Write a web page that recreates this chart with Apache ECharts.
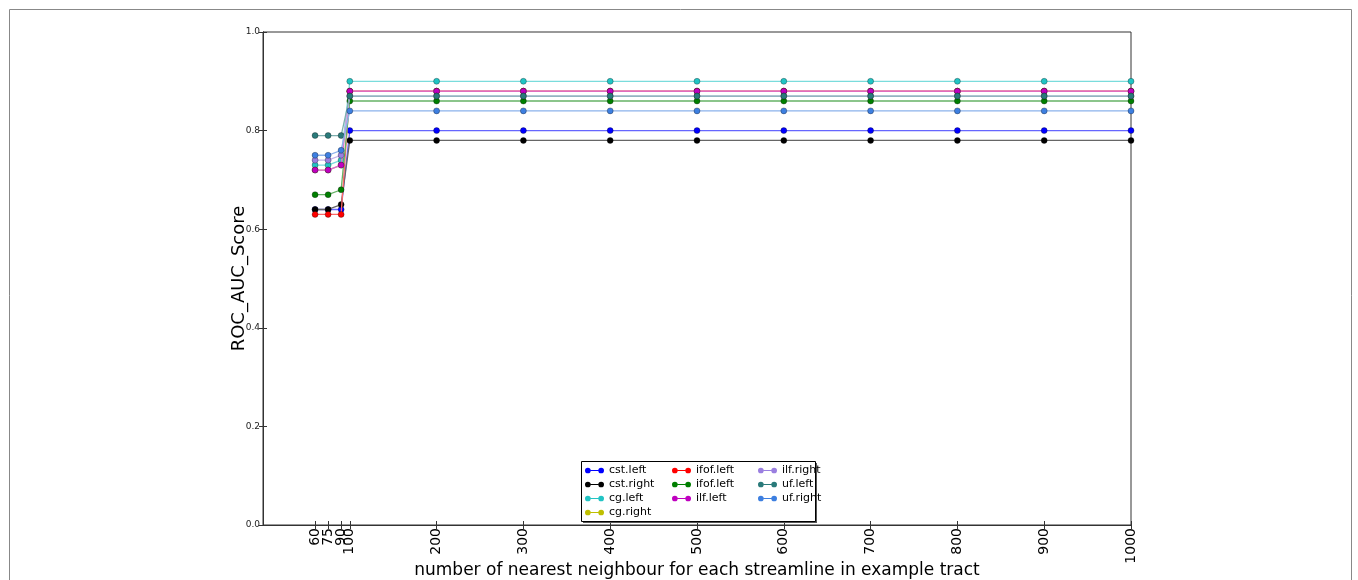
<!DOCTYPE html>
<html>
<head>
<meta charset="utf-8">
<script src="https://cdn.jsdelivr.net/npm/echarts@6/dist/echarts.min.js"></script>
<style>
html,body{margin:0;padding:0;background:#fff;}
#chart{width:1358px;height:580px;}
</style>
</head>
<body>
<div id="chart"></div>
<script>
const xValues = [60, 75, 90, 100, 200, 300, 400, 500, 600, 700, 800, 900, 1000];
const xTickLabels = [60, 75, 90, 100, 200, 300, 400, 500, 600, 700, 800, 900, 1000];
const seriesNames = ['cst.left', 'cst.right', 'cg.left', 'cg.right', 'ifof.left', 'ifof.left ', 'ilf.left', 'ilf.right', 'uf.left', 'uf.right'];
const legendLabels = ['cst.left', 'cst.right', 'cg.left', 'cg.right', 'ifof.left', 'ifof.left', 'ilf.left', 'ilf.right', 'uf.left', 'uf.right'];
const seriesColors = ['#0000ff', '#000000', '#22c4c4', '#bfbf00', '#ff0000', '#007f00', '#bf00bf', '#9a7fe0', '#2a7a7a', '#3d7fe0'];
const cstLeft   = [0.64, 0.64, 0.64, 0.80, 0.80, 0.80, 0.80, 0.80, 0.80, 0.80, 0.80, 0.80, 0.80];
const cstRight  = [0.64, 0.64, 0.65, 0.78, 0.78, 0.78, 0.78, 0.78, 0.78, 0.78, 0.78, 0.78, 0.78];
const cgLeft    = [0.73, 0.73, 0.74, 0.90, 0.90, 0.90, 0.90, 0.90, 0.90, 0.90, 0.90, 0.90, 0.90];
const cgRight   = [0.72, 0.72, 0.73, 0.88, 0.88, 0.88, 0.88, 0.88, 0.88, 0.88, 0.88, 0.88, 0.88];
const ifofLeftA = [0.63, 0.63, 0.63, 0.88, 0.88, 0.88, 0.88, 0.88, 0.88, 0.88, 0.88, 0.88, 0.88];
const ifofLeftB = [0.67, 0.67, 0.68, 0.86, 0.86, 0.86, 0.86, 0.86, 0.86, 0.86, 0.86, 0.86, 0.86];
const ilfLeft   = [0.72, 0.72, 0.73, 0.88, 0.88, 0.88, 0.88, 0.88, 0.88, 0.88, 0.88, 0.88, 0.88];
const ilfRight  = [0.74, 0.74, 0.75, 0.87, 0.87, 0.87, 0.87, 0.87, 0.87, 0.87, 0.87, 0.87, 0.87];
const ufLeft    = [0.79, 0.79, 0.79, 0.87, 0.87, 0.87, 0.87, 0.87, 0.87, 0.87, 0.87, 0.87, 0.87];
const ufRight   = [0.75, 0.75, 0.76, 0.84, 0.84, 0.84, 0.84, 0.84, 0.84, 0.84, 0.84, 0.84, 0.84];
const allValues = [cstLeft, cstRight, cgLeft, cgRight, ifofLeftA, ifofLeftB, ilfLeft, ilfRight, ufLeft, ufRight];

const FONT = 'DejaVu Sans';
const chart = echarts.init(document.getElementById('chart'), null, {renderer: 'canvas'});

function tint(hex, f) {
  const n = parseInt(hex.slice(1), 16);
  const r = (n >> 16) & 255, g = (n >> 8) & 255, b = n & 255;
  const m = c => Math.round(c + (255 - c) * f);
  return 'rgb(' + m(r) + ',' + m(g) + ',' + m(b) + ')';
}

const series = seriesNames.map((name, i) => ({
  name: name,
  type: 'line',
  data: xValues.map((x, j) => [x, allValues[i][j]]),
  symbol: 'circle',
  symbolSize: 6,
  showSymbol: true,
  color: seriesColors[i],
  lineStyle: {width: 1.3, color: tint(seriesColors[i], 0.4)},
  itemStyle: {borderColor: 'rgba(0,0,0,0.5)', borderWidth: 0.6},
  emphasis: {disabled: true},
  z: 2 + i
}));

const legendIcon = 'path://M0,3a3,3 0 1,0 6,0a3,3 0 1,0 -6,0Z M6,2.4h8v1.2h-8Z M14,3a3,3 0 1,0 6,0a3,3 0 1,0 -6,0Z';
const legendCols = [[0, 1, 2, 3], [4, 5, 6], [7, 8, 9]];
const legendLeft = [585, 672, 758];
const legends = legendCols.map((col, c) => ({
  orient: 'vertical',
  left: legendLeft[c],
  top: 464,
  itemGap: 1,
  itemWidth: 19,
  itemHeight: 6,
  padding: 0,
  z: 20,
  icon: legendIcon,
  itemStyle: {borderWidth: 0},
  data: seriesNames.filter((n, i) => col.indexOf(i) >= 0),
  formatter: (n) => legendLabels[seriesNames.indexOf(n)],
  textStyle: {fontFamily: FONT, fontSize: 11, color: '#000', lineHeight: 13},
  selectedMode: false
}));

chart.setOption({
  animation: false,
  backgroundColor: '#fff',
  grid: {left: 263, right: 227, top: 32, bottom: 55, show: true, borderColor: '#333', borderWidth: 1, outerBoundsMode: 'none', containLabel: false},
  xAxis: [{
    type: 'value', min: 0, max: 1000,
    name: 'number of nearest neighbour for each streamline in example tract',
    nameLocation: 'middle', nameGap: 37, nameMoveOverlap: false,
    nameTextStyle: {fontFamily: FONT, fontSize: 17, color: '#000'},
    axisLine: {show: true, lineStyle: {color: '#333'}},
    axisTick: {show: true, inside: true, length: 4, customValues: xTickLabels, lineStyle: {color: '#333'}},
    axisLabel: {show: true, rotate: 90, customValues: [0].concat(xTickLabels), hideOverlap: false,
      fontFamily: FONT, fontSize: 14, color: '#000', margin: 3, formatter: v => (v === 0 ? '' : String(v))},
    splitLine: {show: false}
  }, {
    type: 'value', min: 0, max: 1000, position: 'top',
    axisLine: {show: true, lineStyle: {color: '#333'}},
    axisTick: {show: true, inside: true, length: 4, customValues: xTickLabels, lineStyle: {color: '#333'}},
    axisLabel: {show: false},
    splitLine: {show: false}
  }],
  yAxis: [{
    type: 'value', min: 0, max: 1, interval: 0.2,
    name: 'ROC_AUC_Score', nameLocation: 'middle', nameGap: 15, nameMoveOverlap: false,
    nameTextStyle: {fontFamily: FONT, fontSize: 18, color: '#000'},
    axisLine: {show: true, lineStyle: {color: '#333'}},
    axisTick: {show: true, inside: true, length: 4, lineStyle: {color: '#333'}},
    axisLabel: {fontFamily: FONT, fontSize: 9, color: '#222', margin: 3, formatter: v => v.toFixed(1)},
    splitLine: {show: false}
  }, {
    type: 'value', min: 0, max: 1, interval: 0.2, position: 'right',
    axisLine: {show: true, lineStyle: {color: '#333'}},
    axisTick: {show: true, inside: true, length: 4, lineStyle: {color: '#333'}},
    axisLabel: {show: false},
    splitLine: {show: false}
  }],
  legend: legends,
  graphic: [
    {type: 'rect', left: 7, top: 7, shape: {width: 1342, height: 600}, style: {fill: 'none', stroke: '#888', lineWidth: 1}, silent: true, z: 0},
    {type: 'rect', left: 583, top: 463, shape: {width: 234, height: 60}, style: {fill: '#555'}, silent: true, z: 1},
    {type: 'rect', left: 581, top: 461, shape: {width: 234, height: 60}, style: {fill: '#fff', stroke: '#000', lineWidth: 1}, silent: true, z: 1}
  ],
  series: series
});
</script>
</body>
</html>
